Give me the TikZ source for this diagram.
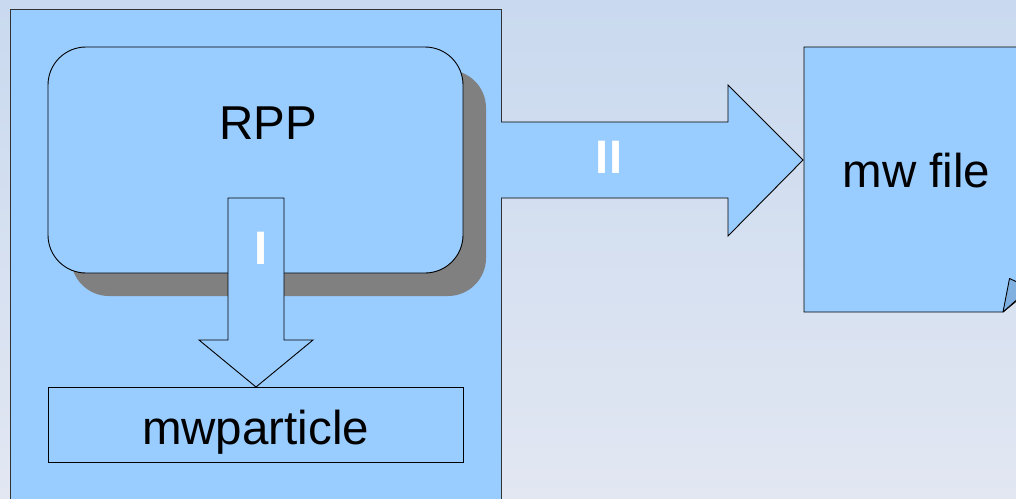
\documentclass[tikz,border=0pt]{standalone}
\usepackage{fontspec}
\setmainfont{Liberation Sans}
\definecolor{boxblue}{HTML}{99CCFF}
\definecolor{flapblue}{HTML}{80B0E0}
\definecolor{shadowgray}{HTML}{808080}
\definecolor{bgtop}{HTML}{C9D9EF}
\definecolor{bgbot}{HTML}{E2E7F2}
\tikzset{
  panel/.style={draw=black!80, fill=boxblue, line width=0.9pt},
  shapebox/.style={draw=black, fill=boxblue, line width=0.9pt},
  bigtext/.style={font=\fontsize{47.5}{50}\selectfont, text=black},
  arrlabel/.style={font=\fontsize{47}{50}\selectfont\bfseries, text=white},
}
\begin{document}
\begin{tikzpicture}[x=1pt,y=-1pt]
\useasboundingbox (0,0) rectangle (1016,498);
\clip (0,0) rectangle (1016,498);
\shade[top color=bgtop, bottom color=bgbot] (0,0) rectangle (1016,498);
% left panel
\draw[panel] (10,9) rectangle (501,520);
% RPP shadow and box
\fill[shadowgray, rounded corners=38pt] (71,70) rectangle (486,296);
\draw[shapebox, rounded corners=38pt] (48,47) rectangle (463,273);
\node[bigtext] (rpp) at (268,123) {RPP};
% arrow I
\draw[shapebox, line join=miter] (228,198) -- (284,198) -- (284,340) -- (313,340) -- (256,387) -- (199,340) -- (228,340) -- cycle;
\node[arrlabel] (labI) at (261.5,248) {I};
% mwparticle box
\draw[shapebox] (48,387) rectangle (463,462);
\node[bigtext] (mwp) at (255.5,432.5) {mwparticle};
% arrow II
\draw[shapebox, line join=miter] (501,122) -- (728,122) -- (728,85) -- (803,160) -- (728,236) -- (728,198) -- (501,198);
\node[arrlabel] (labII) at (609,157) {II};
% mw file note
\draw[shapebox] (804,47) -- (1030,47) -- (1030,290) -- (1003,312) -- (804,312) -- cycle;
\draw[draw=black, fill=flapblue, line width=0.9pt, line join=round] (1003,312) -- (1009.5,278.5) -- (1030,288) -- cycle;
\node[bigtext] (mwfile) at (916.5,171) {mw file};
\end{tikzpicture}
\end{document}
